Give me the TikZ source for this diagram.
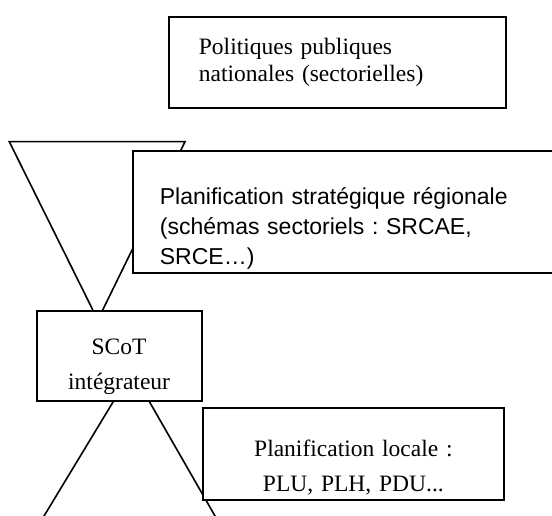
\documentclass[tikz,border=0pt]{standalone}
\usepackage{fontspec}
\setmainfont{Liberation Serif}
\setsansfont{Liberation Sans}
\usetikzlibrary{positioning}
\frenchspacing
\tikzset{
box/.style={draw=black,line width=1.8pt,fill=white,inner ysep=0pt,anchor=north west},
serif/.style={font=\fontsize{23.5}{#1}\selectfont},
sans/.style={font=\sffamily\fontsize{23}{#1}\selectfont},
funnel/.style={draw=black,line width=1.6pt}
}
\begin{document}
\begin{tikzpicture}[x=1pt,y=-1pt]
\useasboundingbox (0,0) rectangle (552,516);
\clip (0,0) rectangle (552,516);
% funnels
\coordinate (tl) at (9.3,141.7);
\coordinate (tr) at (185,141.7);
\coordinate (tapex) at (97.8,320);
\draw[funnel] (tl) -- (tr) -- (tapex) -- cycle;
\coordinate (bapex) at (131.8,371);
\coordinate (bl) at (29.5,540);
\coordinate (br) at (228.8,540);
\draw[funnel] (bl) -- (bapex) -- (br);
% boxes
\node[box,serif=27,align=left,minimum width=337,minimum height=91,inner xsep=30,text width=277] (natbox) at (168,16)
  {Politiques publiques\\nationales (sectorielles)};
\node[box,sans=30,align=left,minimum width=440,minimum height=122,inner xsep=27,text width=386,text height=49] (regbox) at (132,150)
  {Planification stratégique régionale\\(schémas sectoriels : SRCAE,\\SRCE…)};
\node[box,serif=35,align=center,minimum width=165,minimum height=90,inner xsep=0,text width=165,text height=38] (scotbox) at (35.7,310)
  {SCoT\\intégrateur};
\node[box,serif=35,align=center,minimum width=301,minimum height=92,inner xsep=0,text width=301,text height=44] (locbox) at (202,407)
  {Planification locale :\\PLU, PLH, PDU...};
\end{tikzpicture}
\end{document}
